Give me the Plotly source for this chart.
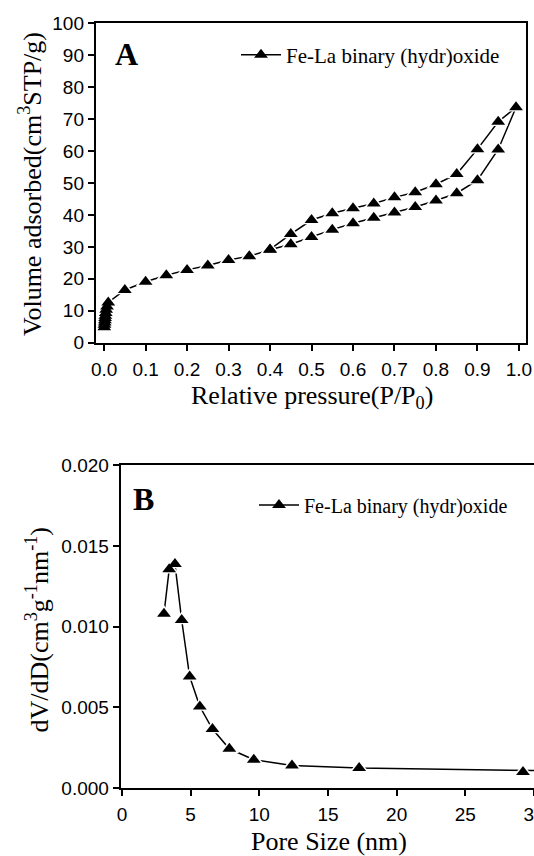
import plotly.graph_objects as go

# ---------------- data ----------------
# Panel A: N2 adsorption / desorption isotherm
ads_p = [0.0005, 0.001, 0.0015, 0.002, 0.0025, 0.003, 0.004, 0.005, 0.007, 0.01,
         0.05, 0.10, 0.15, 0.20, 0.25, 0.30, 0.35, 0.40, 0.45, 0.50, 0.55, 0.60,
         0.65, 0.70, 0.75, 0.80, 0.85, 0.90, 0.95, 0.993]
ads_v = [4.8, 5.6, 6.3, 7.0, 7.7, 8.4, 9.3, 10.3, 11.3, 12.6,
         16.5, 19.1, 21.1, 22.8, 24.2, 25.9, 27.1, 29.1, 30.8, 33.1, 35.4, 37.4,
         39.1, 40.8, 42.5, 44.5, 46.8, 50.9, 60.5, 73.7]
des_p = [0.95, 0.90, 0.85, 0.80, 0.75, 0.70, 0.65, 0.60, 0.55, 0.50, 0.45, 0.40]
des_v = [69.2, 60.6, 52.8, 49.6, 47.1, 45.5, 43.6, 42.1, 40.5, 38.4, 34.0, 29.2]

# Panel B: BJH pore size distribution
pore_d = [3.06, 3.44, 3.86, 4.35, 4.93, 5.67, 6.59, 7.82, 9.6, 12.38, 17.27, 29.2, 45.0]
pore_dv = [0.0108, 0.01355, 0.01388, 0.01041, 0.00691, 0.00505, 0.00365,
           0.00243, 0.00175, 0.0014, 0.00124, 0.00099, 0.0009]

series_name = "Fe-La binary (hydr)oxide"

# ---------------- figure ----------------
W, H = 534, 856
SERIF = "Liberation Serif"
SANS = "Liberation Sans"

fig = go.Figure()

iso_x = ads_p + des_p
iso_y = ads_v + des_v


def add_series(x, y, xa, ya, legend):
    fig.add_trace(go.Scatter(x=x, y=y, mode="lines+markers", name=series_name,
                             xaxis=xa, yaxis=ya, legend=legend,
                             line=dict(color="black", width=1.5),
                             marker=dict(symbol="triangle-up", size=12, color="black")))
    fig.add_trace(go.Scatter(x=x, y=y, mode="markers", showlegend=False, hoverinfo="skip",
                             xaxis=xa, yaxis=ya,
                             marker=dict(symbol="triangle-up", size=17, color="white")))
    fig.add_trace(go.Scatter(x=x, y=y, mode="markers", showlegend=False,
                             xaxis=xa, yaxis=ya,
                             marker=dict(symbol="triangle-up", size=12, color="black")))


add_series(iso_x, iso_y, "x", "y", "legend")
add_series(pore_d, pore_dv, "x2", "y2", "legend2")

axis_common = dict(showgrid=False, zeroline=False, showline=True, linecolor="black",
                   linewidth=2, ticks="outside", ticklen=6, tickwidth=2, tickcolor="black",
                   automargin=False,
                   tickfont=dict(family=SANS, size=19, color="black"))

# pixel geometry of plot areas
A_l, A_r, A_t, A_b = 95.8, 526.0, 23.3, 342.7
B_l, B_r, B_t, B_b = 120.7, 534.0, 465.3, 788.0

xA_range = [-0.02, 1.017]
xB_range = [-0.09, 30.0]

fig.update_layout(
    width=W, height=H, autosize=False,
    margin=dict(l=0, r=0, t=0, b=0, pad=0, autoexpand=False),
    paper_bgcolor="white", plot_bgcolor="white",
    xaxis=dict(domain=[A_l / W, A_r / W], range=xA_range, dtick=0.1, tick0=0,
               tickformat=".1f", mirror=True, anchor="y", ticklabelstandoff=2,
               ticklabeloverflow="allow", **axis_common),
    yaxis=dict(domain=[1 - A_b / H, 1 - A_t / H], range=[0, 100], dtick=10, tick0=0,
               mirror=True, anchor="x", **axis_common),
    xaxis2=dict(domain=[B_l / W, B_r / W], range=xB_range, dtick=5, tick0=0,
                mirror=True, anchor="y2", ticklabelstandoff=2,
                ticklabeloverflow="allow", **axis_common),
    yaxis2=dict(domain=[1 - B_b / H, 1 - B_t / H], range=[0, 0.02], dtick=0.005, tick0=0,
                tickformat=".3f", mirror=False, anchor="x2", **axis_common),
    legend=dict(x=236 / W, y=1 - 55 / H, xanchor="left", yanchor="middle",
                bgcolor="rgba(0,0,0,0)", borderwidth=0, itemwidth=40,
                font=dict(family=SERIF, size=21, color="black")),
    legend2=dict(x=254 / W, y=1 - 505 / H, xanchor="left", yanchor="middle",
                 bgcolor="rgba(0,0,0,0)", borderwidth=0, itemwidth=40,
                 font=dict(family=SERIF, size=20, color="black")),
    showlegend=True,
)

ann = [
    dict(text="<b>A</b>", x=126.5 / W, y=1 - 54 / H, size=32),
    dict(text="<b>B</b>", x=143 / W, y=1 - 499 / H, size=32),
    dict(text="Relative pressure(P/P<sub>0</sub>)", x=311.7 / W, y=1 - 397 / H, size=26),
    dict(text="Volume adsorbed(cm<sup>3</sup>STP/g)", x=30 / W, y=1 - 184 / H, size=26, angle=-90),
    dict(text="Pore Size (nm)", x=328.7 / W, y=1 - 841 / H, size=26),
    dict(text="dV/dD(cm<sup>3</sup>g<sup>-1</sup>nm<sup>-1</sup>)", x=37.5 / W, y=1 - 630 / H,
         size=26, angle=-90),
]
for a in ann:
    fig.add_annotation(text=a["text"], x=a["x"], y=a["y"], xref="paper", yref="paper",
                       xanchor="center", yanchor="middle", showarrow=False,
                       textangle=a.get("angle", 0),
                       font=dict(family=SERIF, size=a["size"], color="black"))

fig.write_html("out.html", config={"displayModeBar": False},
               post_script="document.body.style.margin='0';document.body.style.overflow='hidden';")
